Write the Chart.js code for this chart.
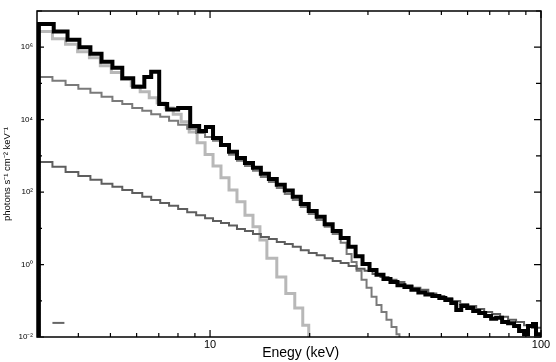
<!DOCTYPE html>
<html>
<head>
<meta charset="utf-8">
<script src="https://cdn.jsdelivr.net/npm/chart.js@4.4.1/dist/chart.umd.min.js"></script>
<style>
  body { margin: 0; background: #fff; }
  canvas { display: block; }
</style>
</head>
<body>
<canvas id="myChart" width="556" height="362"></canvas>
<script>
// observed spectrum (black), bin left edges in keV, last entry closes the last bin
const dataE = [3.04, 3.04, 3.37, 3.71, 4.03, 4.35, 4.70, 5.07, 5.43, 5.86, 6.33, 6.64, 7.02, 7.42, 8.01, 8.71, 9.27, 9.72,
  10.21, 10.79, 11.41, 12.06, 12.75, 13.48, 14.24, 15.06, 15.91, 16.82, 17.78, 18.80, 19.87, 21.00, 22.20, 23.47, 24.81,
  26.22, 27.53, 28.89, 30.33, 31.84, 33.42, 35.09, 36.84, 38.67, 40.59, 42.61, 44.74, 46.96, 49.30, 51.39, 53.57, 55.46,
  57.41, 59.85, 62.39, 65.05, 67.81, 70.69, 73.19, 76.29, 79.54, 82.92, 85.85, 88.88, 91.37, 94.60, 96.58, 100];
const dataFlux = [1e-4, 4.4e6, 2.7e6, 1.6e6, 1.0e6, 6.6e5, 4.0e5, 2.7e5, 1.4e5, 8.1e4, 1.5e5, 2.1e5, 2.7e4, 1.9e4, 2.1e4,
  6.7e3, 4.9e3, 6.3e3, 3.1e3, 2.0e3, 1.3e3, 880, 640, 470, 320, 230, 160, 110, 74, 47, 30, 21, 13, 8.5, 5.4, 3.1, 1.7,
  1.04, 0.71, 0.52, 0.40, 0.33, 0.27, 0.24, 0.20, 0.17, 0.15, 0.135, 0.12, 0.105, 0.087, 0.056, 0.072, 0.063, 0.052,
  0.046, 0.038, 0.032, 0.034, 0.026, 0.024, 0.020, 0.0147, 0.012, 0.020, 0.023, 0.012, 0.012];

// thermal component (light grey)
const thermE = [3.0, 3.34, 3.66, 3.98, 4.32, 4.66, 5.03, 5.40, 5.78, 6.15, 6.55, 6.92, 7.32, 7.74, 8.18, 8.65, 9.14, 9.66,
  10.21, 10.79, 11.41, 12.06, 12.75, 13.48, 14.15, 14.85, 15.91, 16.94, 18.03, 19.06, 19.87];
const thermFlux = [2.7e6, 1.7e6, 1.2e6, 7.5e5, 5.1e5, 3.1e5, 2.0e5, 1.3e5, 8.6e4, 5.9e4, 4.0e4, 2.9e4, 2.1e4, 1.4e4,
  8.7e3, 4.6e3, 2.3e3, 1.1e3, 530, 250, 115, 54, 23, 11, 4.8, 1.5, 0.45, 0.16, 0.063, 0.021, 1e-4];

// cut-off power law (upper dark grey)
const cutE = [3.0, 3.34, 3.66, 4.00, 4.35, 4.70, 5.07, 5.43, 5.82, 6.24, 6.64, 7.07, 7.52, 8.01, 8.53, 9.08, 9.66,
  10.21, 10.79, 11.41, 12.06, 12.75, 13.48, 14.24, 15.06, 15.91, 16.82, 17.78, 18.80, 19.87, 21.00, 22.20, 23.47, 24.81,
  25.86, 26.77, 27.72, 28.69, 29.71, 30.76, 31.84, 32.96, 34.13, 35.34, 36.59, 37.35];
const cutFlux = [1.5e5, 1.18e5, 9.1e4, 7.1e4, 5.5e4, 4.3e4, 3.3e4, 2.7e4, 2.1e4, 1.75e4, 1.4e4, 1.2e4, 9.3e3, 7.2e3,
  5.6e3, 4.3e3, 3.3e3, 2.6e3, 1.9e3, 1.07e3, 730, 530, 390, 260, 190, 130, 89, 61, 39, 25, 17, 11, 7.0, 4.0,
  1.96, 1.18, 0.67, 0.38, 0.23, 0.13, 0.076, 0.049, 0.030, 0.019, 0.012, 1e-4];

// power law (lower dark grey)
const plE = [3.0, 3.34, 3.66, 4.00, 4.35, 4.70, 5.07, 5.43, 5.82, 6.24, 6.64, 7.07, 7.52, 8.01, 8.53, 9.08, 9.66,
  10.21, 10.79, 11.41, 12.06, 12.75, 13.48, 14.24, 15.06, 15.91, 16.82, 17.78, 18.80, 19.87, 21.00, 22.20, 23.47, 24.81,
  26.22, 27.72, 29.30, 30.97, 32.73, 34.61, 36.59, 38.67, 40.87, 43.20, 45.66, 48.28, 51.03, 53.95, 57.02, 60.27,
  63.71, 67.35, 71.19, 75.25, 79.54, 84.08, 88.88, 93.95, 100];
const plFlux = [680, 500, 360, 280, 220, 170, 140, 115, 95, 74, 61, 50, 42, 34, 28, 23, 19, 16, 14, 12, 9.6, 8.5, 7.0,
  5.8, 5.1, 4.2, 3.7, 3.1, 2.5, 2.1, 1.8, 1.5, 1.26, 1.1, 0.91, 0.76, 0.67, 0.55, 0.45, 0.38, 0.33, 0.27, 0.23, 0.20,
  0.16, 0.135, 0.12, 0.099, 0.082, 0.072, 0.059, 0.049, 0.043, 0.036, 0.030, 0.026, 0.021, 0.018, 0.018];

// little dash near the bottom left
const dashE = [3.34, 3.63];
const dashFlux = [0.0245, 0.0245];

const xTicks = [4, 5, 6, 7, 8, 9, 10, 20, 30, 40, 50, 60, 70, 80, 90, 100];
const xTickLabels = ["", "", "", "", "", "", "10", "", "", "", "", "", "", "", "", "100"];
const yTicks = [0.01, 0.1, 1, 10, 100, 1e3, 1e4, 1e5, 1e6, 1e7];
const yTickLabels = ["10⁻²", "", "10⁰", "", "10²", "", "10⁴", "", "10⁶", ""];

function pts(xs, ys) {
  return xs.map((x, i) => ({ x: x, y: ys[i] }));
}

// frame + inward ticks on all four sides
const frameTicks = {
  id: "frameTicks",
  afterDraw(chart) {
    const ctx = chart.ctx;
    const a = chart.chartArea;
    const xs = chart.scales.x;
    const ys = chart.scales.y;
    ctx.save();
    ctx.strokeStyle = "#000";
    ctx.lineWidth = 1.5;
    ctx.strokeRect(a.left, a.top, a.right - a.left, a.bottom - a.top);
    ctx.lineWidth = 1.2;
    ctx.beginPath();
    xs.ticks.forEach(function (t) {
      const px = xs.getPixelForValue(t.value);
      const len = t.label ? 7 : 4;
      ctx.moveTo(px, a.bottom); ctx.lineTo(px, a.bottom - len);
      ctx.moveTo(px, a.top); ctx.lineTo(px, a.top + len);
    });
    ys.ticks.forEach(function (t) {
      const py = ys.getPixelForValue(t.value);
      const len = t.label ? 7 : 5;
      ctx.moveTo(a.left, py); ctx.lineTo(a.left + len, py);
      ctx.moveTo(a.right, py); ctx.lineTo(a.right - len, py);
    });
    ctx.stroke();
    ctx.restore();
  }
};

Chart.defaults.font.family = "'Liberation Sans', Arial, sans-serif";
Chart.defaults.color = "#000";

const ctx = document.getElementById("myChart");

new Chart(ctx, {
  type: "line",
  data: {
    datasets: [
      { label: "data", data: pts(dataE, dataFlux), borderColor: "#000", borderWidth: 4, stepped: true },
      { label: "dash", data: pts(dashE, dashFlux), borderColor: "#666", borderWidth: 2 },
      { label: "power law", data: pts(plE, plFlux), borderColor: "#5e5e5e", borderWidth: 2, stepped: true },
      { label: "cutoff", data: pts(cutE, cutFlux), borderColor: "#7a7a7a", borderWidth: 2, stepped: true },
      { label: "thermal", data: pts(thermE, thermFlux), borderColor: "#b8b8b8", borderWidth: 3, stepped: true },
    ],
  },
  options: {
    responsive: false,
    animation: false,
    layout: { padding: { top: 11, right: 15, left: 0, bottom: 0 } },
    elements: { point: { radius: 0 }, line: { tension: 0, fill: false, borderJoinStyle: "miter" } },
    plugins: { legend: { display: false }, tooltip: { enabled: false } },
    scales: {
      x: {
        type: "logarithmic",
        min: 3,
        max: 100,
        grid: { display: false, drawTicks: false },
        border: { display: false },
        afterBuildTicks: function (s) { s.ticks = xTicks.map(v => ({ value: v })); },
        afterFit: function (s) { s.height = 25; },
        ticks: {
          autoSkip: false,
          maxRotation: 0,
          padding: 1,
          font: { size: 11 },
          callback: function (v) { return xTickLabels[xTicks.indexOf(v)] || ""; },
        },
        // leading no-break spaces push the centred title a little to the right, as in the original
        title: { display: true, text: "\u00a0\u00a0\u00a0\u00a0\u00a0\u00a0Enegy (keV)", font: { size: 14 }, padding: 0 },
      },
      y: {
        type: "logarithmic",
        min: 0.01,
        max: 1e7,
        grid: { display: false, drawTicks: false },
        border: { display: false },
        afterBuildTicks: function (s) { s.ticks = yTicks.map(v => ({ value: v })); },
        afterFit: function (s) { s.width = 37; },
        ticks: {
          autoSkip: false,
          padding: 4,
          font: { size: 8 },
          callback: function (v) { return yTickLabels[yTicks.indexOf(v)] || ""; },
        },
        title: { display: true, text: "photons s⁻¹ cm⁻² keV⁻¹", font: { size: 9.5 }, padding: { top: 2, bottom: 0 } },
      },
    },
  },
  plugins: [frameTicks],
});
</script>
</body>
</html>
